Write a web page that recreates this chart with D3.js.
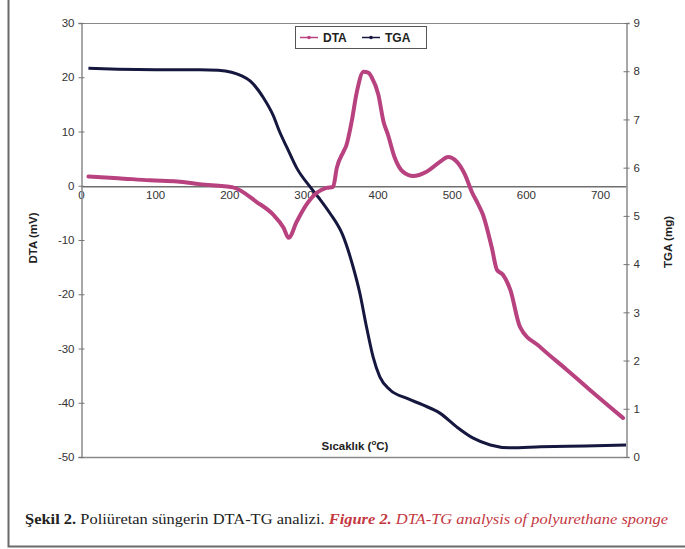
<!DOCTYPE html>
<html>
<head>
<meta charset="utf-8">
<script src="https://cdn.jsdelivr.net/npm/d3@7"></script>
<style>
  body { margin: 0; background: #fff; }
  svg { display: block; }
</style>
</head>
<body>
<svg id="chart" width="685" height="549"></svg>
<script>
// temperature (°C) / DTA (mV)
const dtaTemp = [10, 50, 93, 130, 160, 205, 237, 259, 273, 280, 291, 304, 318, 331, 340, 345, 354, 358, 365, 372, 381, 388, 392, 401, 408, 414, 423, 434, 448, 466, 484, 495, 507, 518, 527, 536, 542, 554, 561, 569, 579, 592, 619, 655, 686, 731];
const dtaValues = [1.7, 1.4, 1.0, 0.8, 0.3, -0.3, -3, -5.3, -7.7, -9.6, -6.6, -3.5, -1.3, -0.4, -0.2, 3.3, 6.3, 7.5, 11.8, 17.3, 21, 20.8, 20, 16.8, 11.8, 9.4, 5.2, 2.6, 1.8, 2.6, 4.4, 5.3, 4.4, 2, -1.1, -3.5, -5.3, -11.4, -15.5, -16.4, -19.2, -26, -29.7, -33.9, -37.6, -42.8];

// temperature (°C) / TGA (mg)
const tgaTemp = [10, 50, 100, 160, 185, 203, 216, 228, 246, 259, 268, 278, 291, 309, 322, 336, 353, 367, 376, 385, 394, 403, 417, 439, 461, 484, 507, 529, 552, 579, 620, 680, 735];
const tgaValues = [8.06, 8.04, 8.03, 8.03, 8.02, 7.98, 7.91, 7.80, 7.45, 7.09, 6.74, 6.41, 5.99, 5.60, 5.35, 5.05, 4.6, 3.94, 3.4, 2.7, 2.07, 1.66, 1.39, 1.22, 1.08, 0.91, 0.62, 0.39, 0.25, 0.19, 0.21, 0.23, 0.25];

const xTicks = [0, 100, 200, 300, 400, 500, 600, 700];
const dtaTicks = [-50, -40, -30, -20, -10, 0, 10, 20, 30];
const tgaTicks = [0, 1, 2, 3, 4, 5, 6, 7, 8, 9];

const dtaColor = "#b8427f";
const tgaColor = "#15173f";
const axisColor = "#8a8a8a";

const svg = d3.select("#chart");

const x = d3.scaleLinear().domain([0, 735]).range([81, 626]);
const yDta = d3.scaleLinear().domain([-50, 30]).range([457, 23]);
const yTga = d3.scaleLinear().domain([0, 9]).range([457, 23]);

// figure frame (left + bottom only)
svg.append("path")
  .attr("d", "M8.5,0 V546.5 H685")
  .attr("fill", "none")
  .attr("stroke", "#6a6a6a")
  .attr("stroke-width", 2);

// plot box: top + bottom
svg.append("line")
  .attr("x1", x(0)).attr("x2", x(735))
  .attr("y1", yDta(30) + 0.5).attr("y2", yDta(30) + 0.5)
  .attr("stroke", axisColor);
svg.append("line")
  .attr("x1", x(0)).attr("x2", x(735))
  .attr("y1", yDta(-50) + 0.5).attr("y2", yDta(-50) + 0.5)
  .attr("stroke", axisColor).attr("stroke-width", 1.5);

const plain = d => String(d); // hyphen minus like the original

// zero line carries the x axis
const xAxis = svg.append("g")
  .attr("transform", `translate(0,${yDta(0) + 0.5})`)
  .call(d3.axisBottom(x).tickValues(xTicks).tickSize(0).tickPadding(5).tickFormat(plain));
xAxis.select(".domain").attr("stroke", "#6f6f6f").attr("stroke-width", 1.3);

// left axis
const leftAxis = svg.append("g")
  .attr("transform", `translate(${x(0) + 0.5},0)`)
  .call(d3.axisLeft(yDta).tickValues(dtaTicks).tickSize(3).tickPadding(4).tickFormat(plain));
leftAxis.selectAll(".tick line").attr("x1", 3);

// right axis
const rightAxis = svg.append("g")
  .attr("transform", `translate(${x(735) + 0.5},0)`)
  .call(d3.axisRight(yTga).tickValues(tgaTicks).tickSize(3).tickPadding(4).tickFormat(plain));
rightAxis.selectAll(".tick line").attr("x1", -3);

svg.selectAll(".domain").filter(function () { return this.parentNode !== xAxis.node(); })
  .attr("stroke", axisColor).attr("stroke-width", 1.5);
svg.selectAll(".tick line").attr("stroke", "#777");
svg.selectAll(".tick text")
  .attr("font-family", "Liberation Sans, Arial, sans-serif")
  .attr("font-size", 11.5)
  .attr("fill", "#333");

// curves
const dtaData = dtaTemp.map((t, i) => ({ t, v: dtaValues[i] }));
const tgaData = tgaTemp.map((t, i) => ({ t, v: tgaValues[i] }));

svg.append("path")
  .datum(tgaData)
  .attr("fill", "none")
  .attr("stroke", tgaColor)
  .attr("stroke-width", 3)
  .attr("stroke-linejoin", "round")
  .attr("d", d3.line().x(d => x(d.t)).y(d => yTga(d.v)).curve(d3.curveMonotoneX));

svg.append("path")
  .datum(dtaData)
  .attr("fill", "none")
  .attr("stroke", dtaColor)
  .attr("stroke-width", 4)
  .attr("stroke-linejoin", "round")
  .attr("stroke-linecap", "round")
  .attr("d", d3.line().x(d => x(d.t)).y(d => yDta(d.v)).curve(d3.curveMonotoneX));

// axis titles
const bold = { "font-family": "Liberation Sans, Arial, sans-serif", "font-weight": "bold", "font-size": 11.5, "fill": "#222" };
function styled(sel, st) { Object.entries(st).forEach(([k, v]) => sel.attr(k, v)); return sel; }

styled(svg.append("text"), bold)
  .attr("transform", "translate(37,238) rotate(-90)")
  .attr("text-anchor", "middle")
  .text("DTA (mV)");

styled(svg.append("text"), bold)
  .attr("transform", "translate(672,242) rotate(-90)")
  .attr("text-anchor", "middle")
  .text("TGA (mg)");

const xTitle = styled(svg.append("text"), bold)
  .attr("x", 355).attr("y", 450)
  .attr("text-anchor", "middle");
xTitle.append("tspan").text("Sıcaklık (");
xTitle.append("tspan").attr("dy", -5).attr("font-size", 8).text("o");
xTitle.append("tspan").attr("dy", 5).text("C)");

// legend
const legend = svg.append("g");
legend.append("rect")
  .attr("x", 295.5).attr("y", 26.5).attr("width", 131).attr("height", 22)
  .attr("fill", "#fff").attr("stroke", "#555");
const legendItems = [
  { name: "DTA", color: dtaColor, x0: 300 },
  { name: "TGA", color: tgaColor, x0: 362 }
];
legendItems.forEach(it => {
  legend.append("line")
    .attr("x1", it.x0).attr("x2", it.x0 + 18)
    .attr("y1", 37.5).attr("y2", 37.5)
    .attr("stroke", it.color).attr("stroke-width", 1.5);
  legend.append("circle")
    .attr("cx", it.x0 + 9).attr("cy", 37.5).attr("r", 1.8)
    .attr("fill", it.color);
  styled(legend.append("text"), bold)
    .attr("x", it.x0 + 23).attr("y", 42)
    .attr("font-size", 12)
    .text(it.name);
});

// caption
const caption = svg.append("text")
  .attr("x", 25).attr("y", 524)
  .attr("font-family", "Liberation Serif, Times New Roman, serif")
  .attr("font-size", 15)
  .attr("fill", "#222");
caption.append("tspan").attr("font-weight", "bold").text("Şekil 2.");
caption.append("tspan").text(" Poliüretan süngerin DTA-TG analizi. ");
caption.append("tspan").attr("font-weight", "bold").attr("font-style", "italic").attr("fill", "#c4383f").text("Figure 2.");
caption.append("tspan").attr("font-style", "italic").attr("fill", "#c4383f").text(" DTA-TG analysis of polyurethane sponge");
caption.attr("textLength", 643).attr("lengthAdjust", "spacingAndGlyphs");
</script>
</body>
</html>
